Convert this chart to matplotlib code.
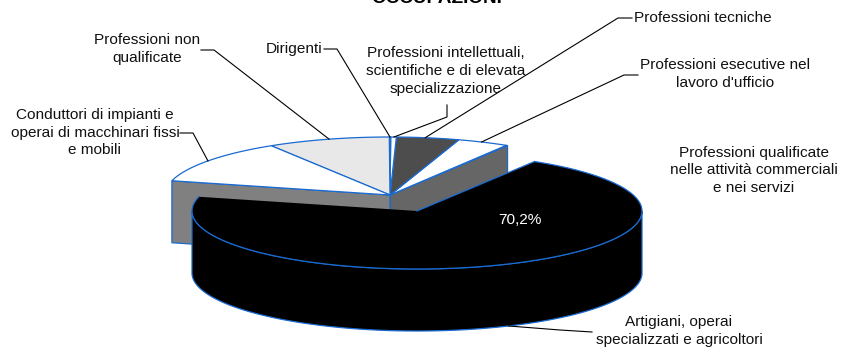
import numpy as np
import matplotlib
matplotlib.use("Agg")
import matplotlib.pyplot as plt
from matplotlib.patches import Polygon

plt.rcParams['font.family'] = ['Liberation Sans', 'DejaVu Sans']

# --- data (percent), in drawing order counter-clockwise from the start angle
categories = ["Professioni qualificate\nnelle attività commerciali\ne nei servizi",
              "Professioni esecutive nel\nlavoro d'ufficio",
              "Professioni tecniche",
              "Professioni intellettuali,\nscientifiche e di elevata\nspecializzazione",
              "Dirigenti",
              "Professioni non\nqualificate",
              "Conduttori di impianti e\noperai di macchinari fissi\ne mobili",
              "Artigiani, operai\nspecializzati e agricoltori"]
values = [0.1, 3.7, 4.5, 0.4, 0.1, 8.8, 12.2, 70.2]
colors = ["#FFFFFF", "#FFFFFF", "#4D4D4D", "#FFFFFF", "#FFFFFF", "#E8E8E8", "#FFFFFF", "#000000"]
title = "OCCUPAZIONI"
shown_label = "70,2%"

# --- style / layout
START = 58.5
RX, RY, DEPTH = 225, 58, 62
BACK_C = (390, 195)
FRONT_C = (417, 211)
BLUE = "#1A6AD0"
LW = 0.9
FS = 11.1

label_pos = [(754, 170.5), (725, 74), (703, 18), (446, 71), (294.5, 49.5),
             (147, 49), (95, 132.5), (679, 331)]
leaders = [None,
           [(638, 75), (624, 75)],
           [(632, 18), (618, 18)],
           [(447, 105), (447, 117)],
           [(324, 49), (337, 49)],
           [(201, 50), (214, 50)],
           [(180, 133), (193, 133)],
           [(592, 332), (560, 330)]]
leader_angle = [None, 66, 81, 89, 90, 105.7, 144, 294]

fig = plt.figure(figsize=(8.41, 3.52), dpi=100)
ax = fig.add_axes([0, 0, 1, 1])
ax.set_xlim(0, 841)
ax.set_ylim(352, 0)
ax.axis("off")


def rim(c, deg):
    t = np.radians(deg)
    return np.column_stack([c[0] + RX * np.cos(t), c[1] - RY * np.sin(t)])


def arc(c, a0, a1, dy=0):
    pts = rim(c, np.linspace(a0, a1, max(int(abs(a1 - a0) * 2), 2)))
    pts[:, 1] += dy
    return pts


edges = START + np.concatenate([[0], np.cumsum(values)]) * 3.6
n_back = len(values) - 1
a_back0, a_back1 = edges[0], edges[n_back]

# back group: two cut faces
for ang, col in ((a_back0, "#666666"), (a_back1, "#808080")):
    p = rim(BACK_C, np.array([ang]))[0]
    face = [BACK_C, tuple(p), (p[0], p[1] + DEPTH), (BACK_C[0], BACK_C[1] + DEPTH)]
    ax.add_patch(Polygon(face, closed=True, fc=col, ec=BLUE, lw=LW, zorder=2))

# back group: top slices
for i in range(n_back):
    pts = np.vstack([[BACK_C], arc(BACK_C, edges[i], edges[i + 1])])
    ax.add_patch(Polygon(pts, closed=True, fc=colors[i], ec=BLUE, lw=LW, zorder=3))

# front (exploded) slice: outer wall and top
a0, a1 = edges[n_back], edges[n_back + 1]
w0, w1 = 180, 360
wall = np.vstack([arc(FRONT_C, w0, w1), arc(FRONT_C, w1, w0, DEPTH)])
top = np.vstack([[FRONT_C], arc(FRONT_C, a0, a1)])
ax.add_patch(Polygon(wall, closed=True, fc=colors[-1], ec=BLUE, lw=LW, zorder=4))
ax.add_patch(Polygon(top, closed=True, fc=colors[-1], ec="none", zorder=5))
rim_line = arc(FRONT_C, a0, a1)
ax.plot(rim_line[:, 0], rim_line[:, 1], color=BLUE, lw=LW, zorder=6)
end = rim(FRONT_C, np.array([a1]))[0]
ax.plot([FRONT_C[0], end[0]], [FRONT_C[1], end[1]], color=BLUE, lw=LW, zorder=6)

# leaders
for i, lead in enumerate(leaders):
    if lead is None:
        continue
    c, dy = (FRONT_C, DEPTH) if i == n_back else (BACK_C, 0)
    tip = rim(c, np.array([leader_angle[i]]))[0]
    xs = [lead[0][0], lead[1][0], tip[0]]
    ys = [lead[0][1], lead[1][1], tip[1] + dy]
    ax.plot(xs, ys, color="black", lw=0.8, zorder=7, solid_joinstyle="miter")

# labels
for (x, y), txt in zip(label_pos, categories):
    ax.text(x, y, txt, ha="center", va="center", fontsize=FS, linespacing=1.33,
            color="#111111", zorder=8)
ax.text(520, 220.5, shown_label, ha="center", va="center", fontsize=FS, color="white", zorder=8)
ax.text(437, 3, title, ha="center", va="baseline", fontsize=13.7, fontweight="bold",
        color="black", zorder=8)

fig.savefig("out.png", dpi=100)
